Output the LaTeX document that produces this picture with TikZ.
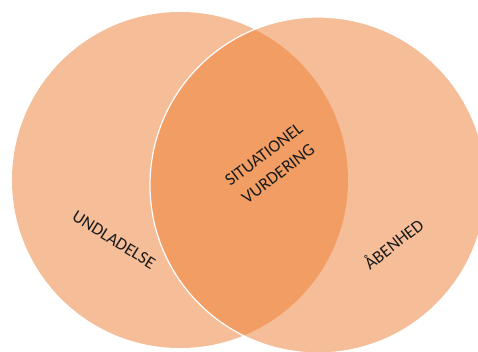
\documentclass[tikz,border=0pt]{standalone}
\usepackage{fontspec}
\setmainfont{Carlito}
\definecolor{vorange}{HTML}{ED7D31}
\definecolor{vtext}{HTML}{1A1A1A}
\begin{document}
\begin{tikzpicture}[x=1pt,y=-1pt,
  venn/.style={fill=vorange,fill opacity=0.5,draw=none},
  vennborder/.style={draw=white,line width=1.2pt},
  lbl/.style={text=vtext,font=\fontsize{17.5}{24}\selectfont,align=center,inner sep=0pt}]
\useasboundingbox (0,0) rectangle (478,351);
\begin{scope}
\clip (0,0) rectangle (478,351);
\fill[venn] (180,180) circle[radius=168];
\fill[venn] (318,185) circle[radius=168];
\draw[vennborder] (318,185) circle[radius=168];
\end{scope}
\node[lbl,rotate=-32] (und) at (114,240) {UNDLADELSE};
\node[lbl,rotate=37] (sit) at (271,164) {SITUATIONEL\\VURDERING};
\node[lbl,rotate=38] (ab) at (393,243) {ÅBENHED};
\end{tikzpicture}
\end{document}
